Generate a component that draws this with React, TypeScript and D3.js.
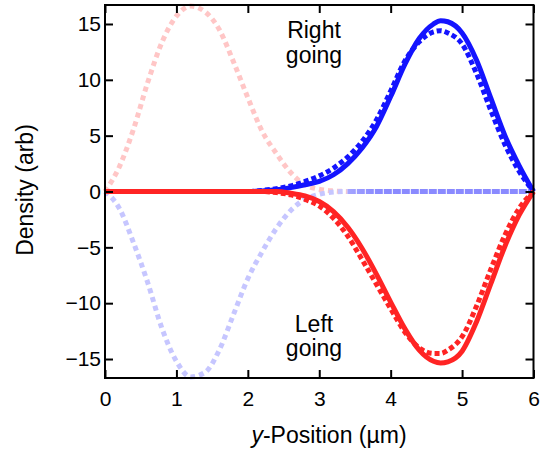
// Density of right- and left-going components across the channel
import React, { useEffect, useRef } from "react";
import * as d3 from "d3";

// x positions (µm) shared by the main curves
const xGrid = [0, 0.2, 0.4, 0.6, 0.8, 1.0, 1.2, 1.4, 1.6, 1.8, 2.0, 2.2, 2.4, 2.6, 2.8, 3.0, 3.2, 3.4, 3.6, 3.8, 4.0, 4.2, 4.4, 4.6, 4.7, 4.8, 5.0, 5.2, 5.4, 5.6, 5.8, 6.0];

// right going (blue) - solid and dotted
const rightSolid = [0, 0, 0, 0, 0, 0, 0, 0, 0, 0, 0, 0.05, 0.15, 0.35, 0.6, 0.9, 1.5, 2.5, 3.9, 5.8, 8.5, 11.4, 13.7, 15.0, 15.3, 15.2, 14.2, 11.8, 8.4, 5.0, 2.3, 0];
const rightDotted = [0, 0, 0, 0, 0, 0, 0, 0, 0, 0, 0, 0.1, 0.25, 0.5, 0.9, 1.4, 2.1, 3.1, 4.5, 6.4, 9.0, 11.7, 13.4, 14.3, 14.4, 14.2, 13.2, 10.6, 7.3, 4.2, 1.8, 0];

// left going (red) - solid and dotted
const leftSolid = [0, 0, 0, 0, 0, 0, 0, 0, 0, 0, 0, 0, 0, -0.15, -0.4, -0.9, -1.8, -3.2, -5.1, -7.4, -9.9, -12.3, -14.2, -15.2, -15.35, -15.25, -14.3, -11.7, -8.3, -4.9, -2.1, 0];
const leftDotted = [0, 0, 0, 0, 0, 0, 0, 0, 0, 0, 0, 0, -0.1, -0.3, -0.7, -1.3, -2.4, -4.0, -6.1, -8.3, -10.5, -12.6, -14.0, -14.5, -14.5, -14.2, -13.0, -10.3, -7.0, -3.9, -1.5, 0];

// faint initial packets near the left wall
const faintX = [0, 0.2, 0.4, 0.6, 0.8, 1.0, 1.2, 1.4, 1.6, 1.8, 2.0, 2.2, 2.4, 2.6, 2.8, 3.0, 3.2, 3.4];
const faintPink = [0, 2.2, 5.6, 9.8, 13.4, 15.7, 16.6, 16.1, 14.5, 11.6, 8.4, 5.4, 3.4, 1.7, 0.6, 0.2, 0.05, 0];
const faintBlue = [0, -1.5, -4.6, -8.2, -12.3, -15.2, -16.6, -16.2, -14.2, -11.0, -7.8, -5.4, -3.3, -1.7, -0.7, -0.25, -0.05, 0];
// the blue packet then sits on zero up to the right wall
const faintTailX = [3.4, 4.0, 5.0, 6.0];
const faintTail = [0, 0, 0, 0];

const xTicks = [0, 1, 2, 3, 4, 5, 6];
const yTicks = [-15, -10, -5, 0, 5, 10, 15];

const width = 544;
const height = 453;
const margin = { left: 105, right: 10.5, top: 5, bottom: 75 };
const font = "'Liberation Sans', Arial, Helvetica, sans-serif";

const xScale = d3.scaleLinear().domain([0, 6]).range([margin.left, width - margin.right]);
const yScale = d3.scaleLinear().domain([-16.7, 16.7]).range([height - margin.bottom, margin.top]);

const toPoints = (xs: number[], ys: number[]) => xs.map((x, i) => [x, ys[i]] as [number, number]);

const line = d3.line<[number, number]>()
    .x((d) => xScale(d[0]))
    .y((d) => yScale(d[1]))
    .curve(d3.curveMonotoneX);

export default function App() {
    const xAxisBottom = useRef<SVGGElement>(null);
    const xAxisTop = useRef<SVGGElement>(null);
    const yAxisLeft = useRef<SVGGElement>(null);
    const yAxisRight = useRef<SVGGElement>(null);

    useEffect(() => {
        // ticks point inwards on all four sides
        d3.select(xAxisBottom.current!)
            .call(d3.axisBottom(xScale).tickValues(xTicks).tickSizeInner(-8).tickSizeOuter(0).tickPadding(13).tickFormat(d3.format("d")));
        d3.select(xAxisTop.current!)
            .call(d3.axisTop(xScale).tickValues(xTicks).tickSizeInner(-8).tickSizeOuter(0).tickFormat(() => ""));
        d3.select(yAxisLeft.current!)
            .call(d3.axisLeft(yScale).tickValues(yTicks).tickSizeInner(-8).tickSizeOuter(0).tickPadding(4).tickFormat(d3.format("d")));
        d3.select(yAxisRight.current!)
            .call(d3.axisRight(yScale).tickValues(yTicks).tickSizeInner(-8).tickSizeOuter(0).tickFormat(() => ""));

        d3.selectAll(".axis .domain").remove();
        d3.selectAll(".axis line").attr("stroke", "#000").attr("stroke-width", 2);
        d3.selectAll(".axis text")
            .attr("fill", "#000")
            .style("font-family", font)
            .style("font-size", "21px");
    }, []);

    const plotW = width - margin.left - margin.right;
    const plotH = height - margin.top - margin.bottom;

    return (
        <svg width={width} height={height} style={{ position: "absolute", left: 0, top: 0, background: "#fff" }}>
            <defs>
                <linearGradient id="faintTail" gradientUnits="userSpaceOnUse" x1={xScale(3.0)} y1={0} x2={xScale(3.8)} y2={0}>
                    <stop offset="0" stopColor="#c0c0ff" />
                    <stop offset="1" stopColor="#8a8aff" />
                </linearGradient>
            </defs>

            {/* faint initial packets */}
            <path d={line(toPoints(faintX, faintPink))!} fill="none" stroke="#ffc6c6" strokeWidth={5} strokeDasharray="5,4" />
            <path d={line(toPoints(faintX, faintBlue))!} fill="none" stroke="#c6c6ff" strokeWidth={5} strokeDasharray="5,4" />
            <path d={line(toPoints(faintTailX, faintTail))!} fill="none" stroke="url(#faintTail)" strokeWidth={5} strokeDasharray="8,1" />

            {/* right going */}
            <path d={line(toPoints(xGrid, rightSolid))!} fill="none" stroke="#1414ff" strokeWidth={5} />
            <path d={line(toPoints(xGrid, rightDotted))!} fill="none" stroke="#1414ff" strokeWidth={5} strokeDasharray="5,3" />

            {/* left going */}
            <path d={line(toPoints(xGrid, leftSolid))!} fill="none" stroke="#ff2424" strokeWidth={5} />
            <path d={line(toPoints(xGrid, leftDotted))!} fill="none" stroke="#ff2424" strokeWidth={5} strokeDasharray="5,3" />

            {/* frame */}
            <rect x={margin.left} y={margin.top} width={plotW} height={plotH} fill="none" stroke="#000" strokeWidth={2} />
            <g className="axis" ref={xAxisBottom} transform={`translate(0, ${height - margin.bottom})`} />
            <g className="axis" ref={xAxisTop} transform={`translate(0, ${margin.top})`} />
            <g className="axis" ref={yAxisLeft} transform={`translate(${margin.left}, 0)`} />
            <g className="axis" ref={yAxisRight} transform={`translate(${width - margin.right}, 0)`} />

            {/* annotations */}
            <g fontFamily={font} fontSize={23} textAnchor="middle" fill="#000">
                <text x={314} y={38}>Right</text>
                <text x={314} y={63}>going</text>
                <text x={314} y={332}>Left</text>
                <text x={314} y={356}>going</text>
            </g>

            {/* axis titles */}
            <text x={329} y={443} fontFamily={font} fontSize={23} textAnchor="middle">
                <tspan fontStyle="italic">y</tspan>-Position (µm)
            </text>
            <text transform="translate(33, 190) rotate(-90)" fontFamily={font} fontSize={23} textAnchor="middle">
                Density (arb)
            </text>
        </svg>
    );
}
